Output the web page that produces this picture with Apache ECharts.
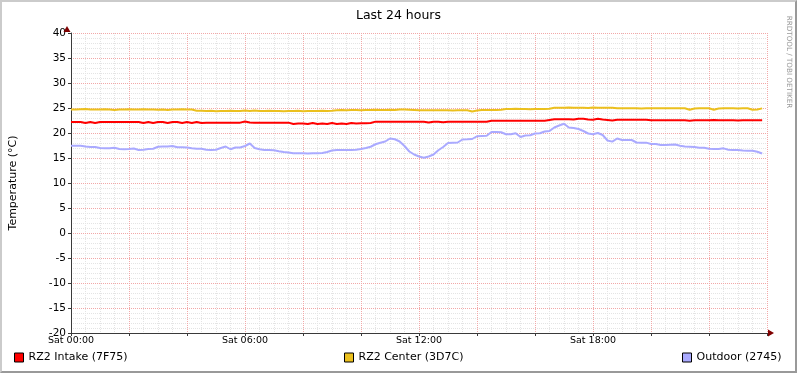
<!DOCTYPE html>
<html><head><meta charset="utf-8">
<script src="https://cdn.jsdelivr.net/npm/echarts@6/dist/echarts.min.js"></script>
<style>
html,body{margin:0;padding:0;background:#fff;}
#wrap{position:relative;width:797px;height:373px;}
#chart{position:absolute;left:0;top:0;width:797px;height:373px;}
#frame{position:absolute;left:0;top:0;width:797px;height:373px;box-sizing:border-box;
 border-left:2px solid #CBCBCB;border-top:2px solid #CBCBCB;border-right:2px solid #999;border-bottom:2px solid #999;pointer-events:none;}
</style></head>
<body><div id="wrap"><div id="chart"></div><div id="frame"></div></div>
<script>
// samples every 10 minutes from Sat 00:00
const sampleStepHours = 1 / 6;
const seriesNames = ['RZ2 Intake (7F75)', 'RZ2 Center (3D7C)', 'Outdoor (2745)'];
const xTickLabels = ['Sat 00:00', 'Sat 06:00', 'Sat 12:00', 'Sat 18:00'];
const titleText = 'Last 24 hours';
const yAxisTitle = 'Temperature (°C)';

const intake = [
22.2,22.2,22.2,22.0,22.2,22.0,22.2,22.2,22.2,22.2,
22.2,22.2,22.2,22.2,22.2,22.0,22.2,22.0,22.2,22.2,
22.0,22.2,22.2,22.0,22.2,22.0,22.2,22.0,22.07,22.07,
22.07,22.07,22.07,22.07,22.07,22.07,22.3,22.1,22.07,22.07,
22.07,22.07,22.07,22.07,22.07,22.07,21.8,21.9,21.9,21.8,
22.0,21.8,21.9,21.8,22.0,21.8,21.9,21.8,22.0,21.9,
21.93,21.93,22.0,22.27,22.27,22.27,22.27,22.27,22.27,22.27,
22.27,22.27,22.25,22.25,22.1,22.25,22.25,22.15,22.25,22.25,
22.25,22.25,22.25,22.25,22.25,22.25,22.25,22.45,22.47,22.47,
22.47,22.47,22.47,22.47,22.47,22.47,22.47,22.47,22.47,22.6,
22.73,22.73,22.73,22.73,22.7,22.87,22.87,22.7,22.67,22.87,
22.7,22.6,22.5,22.67,22.67,22.67,22.67,22.67,22.67,22.67,
22.55,22.55,22.55,22.55,22.55,22.55,22.55,22.55,22.47,22.55,
22.55,22.55,22.55,22.6,22.55,22.55,22.55,22.55,22.5,22.55,
22.55,22.55,22.55,22.55];

const center = [
24.7,24.7,24.75,24.8,24.7,24.7,24.7,24.75,24.7,24.6,
24.7,24.7,24.75,24.7,24.7,24.75,24.7,24.7,24.65,24.7,
24.6,24.7,24.7,24.75,24.7,24.7,24.45,24.45,24.4,24.45,
24.35,24.4,24.4,24.45,24.4,24.4,24.5,24.4,24.5,24.4,
24.4,24.45,24.4,24.4,24.35,24.4,24.4,24.45,24.35,24.4,
24.4,24.4,24.45,24.4,24.45,24.55,24.6,24.55,24.6,24.6,
24.55,24.6,24.6,24.65,24.6,24.6,24.65,24.6,24.7,24.7,
24.65,24.6,24.55,24.55,24.55,24.55,24.55,24.55,24.55,24.5,
24.55,24.55,24.55,24.3,24.5,24.6,24.6,24.6,24.6,24.65,
24.8,24.8,24.85,24.8,24.8,24.75,24.8,24.8,24.8,24.85,
25.05,25.05,25.05,25.1,25.05,25.05,25.05,25.0,25.1,25.05,
25.05,25.05,25.05,24.95,24.95,24.95,24.95,24.95,24.9,24.95,
24.95,24.95,24.95,24.95,24.95,24.95,24.95,24.95,24.65,24.9,
24.95,24.95,24.95,24.65,24.9,24.95,24.95,24.95,24.9,24.95,
24.95,24.65,24.7,24.93];

const outdoor = [
17.45,17.45,17.45,17.3,17.2,17.2,17.0,16.95,16.95,17.05,
16.8,16.75,16.8,16.9,16.6,16.65,16.8,16.85,17.25,17.3,
17.3,17.4,17.15,17.15,17.1,16.95,16.85,16.85,16.65,16.6,
16.65,17.0,17.3,16.75,17.1,17.1,17.4,17.9,17.0,16.75,
16.6,16.6,16.55,16.35,16.2,16.1,15.95,15.95,15.95,15.9,
15.95,15.95,16.0,16.2,16.5,16.6,16.6,16.6,16.6,16.65,
16.8,17.0,17.25,17.75,18.05,18.3,18.9,18.75,18.3,17.4,
16.3,15.7,15.3,15.05,15.3,15.7,16.55,17.2,18.0,18.07,
18.1,18.7,18.73,18.8,19.35,19.4,19.45,20.2,20.2,20.15,
19.75,19.75,19.95,19.2,19.5,19.55,19.9,19.95,20.3,20.4,
21.1,21.5,21.85,21.1,21.0,20.8,20.4,19.9,19.75,20.0,
19.6,18.5,18.27,18.9,18.6,18.6,18.6,18.1,18.07,18.07,
17.8,17.8,17.6,17.6,17.65,17.7,17.45,17.3,17.27,17.2,
17.07,17.07,16.85,16.8,16.8,16.93,16.65,16.6,16.6,16.5,
16.47,16.47,16.25,15.9];

const seriesValues = [intake, center, outdoor];
const seriesColors = ['#FF0000', '#EBC01E', '#AAAAFF'];

const FONT = 'DejaVu Sans';
const chart = echarts.init(document.getElementById('chart'), null, {renderer: 'canvas'});

const majorGrid = '#F2A8A8';
const minorGrid = '#E4E4E4';
const axisColor = '#3a3a3a';
const legendLefts = [14, 344, 682];
const hidden = {axisLine: {show: false}, axisTick: {show: false}, axisLabel: {show: false}};
const option = {
  animation: false,
  backgroundColor: '#FFFFFF',
  textStyle: {fontFamily: FONT},
  title: {
    text: titleText, left: 'center', top: 4,
    textStyle: {fontFamily: FONT, fontSize: 12.5, fontWeight: 'normal', color: '#000'}
  },
  legend: seriesNames.map((n, k) => ({
    data: [n], left: legendLefts[k], top: 352, padding: 0,
    icon: 'rect', itemWidth: 9, itemHeight: 9,
    itemStyle: {borderColor: '#000', borderWidth: 1},
    textStyle: {fontFamily: FONT, fontSize: 11, color: '#000'},
    selectedMode: false
  })),
  grid: {left: 67, top: 33, width: 700, height: 300, containLabel: false},
  xAxis: [{
    type: 'value', min: 0, max: 24, interval: 2, z: 2,
    axisLine: {show: true, onZero: false, lineStyle: {color: axisColor, width: 1}},
    axisTick: {show: true, length: 3, lineStyle: {color: axisColor}},
    axisLabel: {
      margin: 3, fontFamily: FONT, fontSize: 9.5, color: '#000',
      formatter: v => (v % 6 === 0 && v / 6 < xTickLabels.length) ? xTickLabels[v / 6] : ''
    },
    splitLine: {show: true, lineStyle: {color: majorGrid, type: [1, 1], width: 1}}
  }, Object.assign({
    type: 'value', min: 0, max: 24, interval: 0.5, position: 'bottom', z: 0,
    splitLine: {show: true, lineStyle: {color: minorGrid, type: [1, 1], width: 1}}
  }, hidden)],
  yAxis: [{
    type: 'value', min: -20, max: 40, interval: 5, z: 2,
    name: yAxisTitle, nameLocation: 'middle', nameGap: 52, nameRotate: 90,
    nameTextStyle: {fontFamily: FONT, fontSize: 11, color: '#000'},
    axisLine: {show: true, onZero: false, lineStyle: {color: axisColor, width: 1}},
    axisTick: {show: true, length: 3, lineStyle: {color: axisColor}},
    axisLabel: {margin: 5, fontFamily: FONT, fontSize: 10.5, color: '#000'},
    splitLine: {show: true, lineStyle: {color: majorGrid, type: [1, 1], width: 1}}
  }, Object.assign({
    type: 'value', min: -20, max: 40, interval: 1, position: 'left', z: 0,
    splitLine: {show: true, lineStyle: {color: minorGrid, type: [1, 1], width: 1}}
  }, hidden)],
  graphic: [
    {type: 'rect', silent: true, z: 1,
     shape: {x: 766, y: 32, width: 3, height: 300.5}, style: {fill: '#FFFFFF'}},
    {type: 'text', x: 789, y: 62, rotation: -Math.PI / 2, silent: true,
     style: {text: 'RRDTOOL / TOBI OETIKER', x: 0, y: 0, align: 'center', verticalAlign: 'middle',
             font: '7.2px "DejaVu Sans"', fill: '#999'}},
    {type: 'polygon', silent: true, z: 100,
     shape: {points: [[67, 26], [63.5, 32], [70.5, 32]]}, style: {fill: '#7F0000'}},
    {type: 'polygon', silent: true, z: 100,
     shape: {points: [[774, 333], [768, 329.5], [768, 336.5]]}, style: {fill: '#7F0000'}}
  ],
  series: seriesNames.map((n, k) => ({
    name: n, type: 'line', showSymbol: false, symbol: 'none',
    xAxisIndex: 0, yAxisIndex: 0,
    color: seriesColors[k],
    lineStyle: {width: 2, color: seriesColors[k]},
    itemStyle: {color: seriesColors[k]},
    data: seriesValues[k].map((v, i) => [i * sampleStepHours, v]),
    z: 3 + k
  }))
};
chart.setOption(option);
</script></body></html>
